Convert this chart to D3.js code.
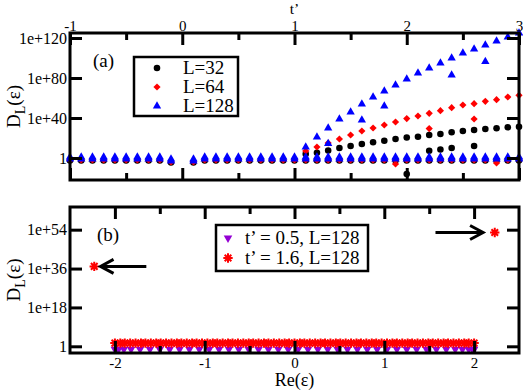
<!DOCTYPE html>
<html>
<head>
<meta charset="utf-8">
<script src="https://cdn.jsdelivr.net/npm/d3@7"></script>
<style>
  body { margin: 0; background: #fff; }
  svg { display: block; }
</style>
</head>
<body>
<script>
// ---------- panel (a) data: D_L(eps) against t' ----------

// t' values where all three sizes sit on the D = 1 line.
const tBaseline = [-1, -0.9, -0.8, -0.7, -0.6, -0.5, -0.4, -0.3, -0.2, -0.1,
  0.1, 0.2, 0.3, 0.4, 0.5, 0.6, 0.7, 0.8, 0.9, 1.0,
  1.1, 1.2, 1.3, 1.4, 1.5, 1.6, 1.7, 1.8, 1.9, 2.0,
  2.1, 2.2, 2.3, 2.4, 2.5, 2.6, 2.7, 2.8, 2.9, 3.0];
const dBaseline = [1, 1, 1, 1, 1, 1, 1, 1, 1, 1e-2,
  1e-2, 1, 1, 1, 1, 1, 1, 1, 1, 1,
  1, 1, 1, 1, 1, 1, 1, 1, 1, 1,
  1, 1, 1, 1, 1, 1, 1, 1, 1, 1];

// t' values of the growing branch.
const tUpper = [1.1, 1.2, 1.3, 1.4, 1.5, 1.6, 1.7, 1.8, 1.9, 2.0,
  2.1, 2.2, 2.3, 2.4, 2.5, 2.6, 2.7, 2.8, 2.9, 3.0];
const dUpper32 = [1e4, 2e5, 3e7, 1e10, 1e12, 1e14, 5e15, 2e17, 1e19, 3e20,
  2e21, 1e23, 1e24, 5e25, 1e27, 1e28, 1e29, 5e29, 5e30, 2e31];
const dUpper64 = [1e7, 1e11, 1e15, 1e19, 1e23, 1e27, 1e30, 1e33, 1e36, 3e39,
  1e42, 5e44, 2e47, 2e50, 1e53, 2e54, 5e56, 2e58, 1e61, 5e62];
const dUpper128 = [1e11, 1e21, 1e30, 1e39, 1e46, 1e54, 1e61, 1e67, 1e73, 1e79,
  1e85, 1e90, 1e95, 1e100, 1e105, 1e109, 1e113, 1e117, 1e121, 1e125];

// Scattered extra points [t', D].
const extra32 = [[2.2, 2e7], [2.3, 3e8], [2.4, 1e10], [2.6, 1e12], [2.0, 1e-16]];
const extra64 = [[2.2, 3e29], [2.6, 1e39], [1.9, 1e-6], [2.8, 1e-5]];
const extra128 = [[1.3, 3e14], [1.6, 1e38], [1.8, 1e52], [2.4, 1e83], [2.7, 3e96]];

const topXTicks = [-1, 0, 1, 2, 3];
const topYTicks = [1, 1e40, 1e80, 1e120];
const legendA = ["L=32", "L=64", "L=128"];

// ---------- panel (b) data: D_L(eps) against Re(eps) ----------

// Re(eps) for t' = 0.5, L = 128.
const reHalf = [-2.00, -1.96, -1.90, -1.82, -1.72, -1.61, -1.50, -1.39, -1.28, -1.17,
  -1.06, -0.95, -0.84, -0.73, -0.62, -0.51, -0.40, -0.29, -0.18, -0.07,
  0.04, 0.15, 0.26, 0.37, 0.48, 0.59, 0.70, 0.81, 0.92, 1.03,
  1.14, 1.25, 1.36, 1.47, 1.58, 1.69, 1.79, 1.87, 1.94, 1.98, 2.00];
const dHalf = 4e-2;

// Re(eps) for t' = 1.6, L = 128 (bulk band).
const reSixteen = [-2.00, -1.94, -1.89, -1.83, -1.77, -1.71, -1.66, -1.60, -1.54, -1.49,
  -1.43, -1.37, -1.31, -1.26, -1.20, -1.14, -1.09, -1.03, -0.97, -0.91,
  -0.86, -0.80, -0.74, -0.69, -0.63, -0.57, -0.51, -0.46, -0.40, -0.34,
  -0.29, -0.23, -0.17, -0.11, -0.06, 0.00, 0.06, 0.11, 0.17, 0.23,
  0.29, 0.34, 0.40, 0.46, 0.51, 0.57, 0.63, 0.69, 0.74, 0.80,
  0.86, 0.91, 0.97, 1.03, 1.09, 1.14, 1.20, 1.26, 1.31, 1.37,
  1.43, 1.49, 1.54, 1.60, 1.66, 1.71, 1.77, 1.83, 1.89, 1.94, 2.00];
const dSixteen = 3e1;

// Two isolated edge states for t' = 1.6 [Re(eps), D].
const edgeStates = [[-2.23, 1e37], [2.23, 5e52]];

const botXTicks = [-2, -1, 0, 1, 2];
const botYTicks = [1, 1e18, 1e36, 1e54];
const legendB = ["t\u2019 = 0.5, L=128", "t\u2019 = 1.6, L=128"];

// ---------- layout ----------
const W = 523, H = 391;
const font = "Liberation Serif, Times New Roman, serif";
const boxA = { left: 70, right: 519, top: 33, bottom: 180 };
const boxB = { left: 70, right: 519, top: 207, bottom: 353 };

const svg = d3.select("body").append("svg")
  .attr("width", W).attr("height", H)
  .attr("font-family", font);

// Custom symbols.
const diamond = {
  draw(ctx, size) {
    const r = Math.sqrt(size / 2);
    ctx.moveTo(0, -r); ctx.lineTo(r, 0); ctx.lineTo(0, r); ctx.lineTo(-r, 0); ctx.closePath();
  }
};
const star = {
  draw(ctx, size) {
    const r = Math.sqrt(size);
    for (let i = 0; i < 4; i++) {
      const a = i * Math.PI / 4;
      ctx.moveTo(r * Math.cos(a), r * Math.sin(a));
      ctx.lineTo(-r * Math.cos(a), -r * Math.sin(a));
    }
  }
};

const styles = {
  black: { type: d3.symbolCircle, size: 34, fill: "#000", stroke: "none", rot: 0, sw: 0 },
  red: { type: diamond, size: 26, fill: "#ff0000", stroke: "none", rot: 0, sw: 0 },
  blue: { type: d3.symbolTriangle, size: 30, fill: "#0000ff", stroke: "none", rot: 0, sw: 0 },
  purple: { type: d3.symbolTriangle, size: 32, fill: "#9400d3", stroke: "none", rot: 180, sw: 0 },
  star: { type: star, size: 22, fill: "none", stroke: "#ff0000", rot: 0, sw: 2 }
};

const drawPoints = function (g, pts, x, y, st) {
  g.selectAll(null).data(pts).join("path")
    .attr("d", d3.symbol(st.type, st.size))
    .attr("transform", d => `translate(${x(d[0])},${y(d[1])}) rotate(${st.rot})`)
    .attr("fill", st.fill)
    .attr("stroke", st.stroke)
    .attr("stroke-width", st.sw);
};

const styleAxis = function (g) {
  g.select(".domain").remove();
  g.attr("font-family", font).attr("font-size", 15);
  g.selectAll("line").attr("stroke-width", 3);
  g.selectAll("text").attr("fill", "#000");
};

const expFormat = d => d === 1 ? "1" : "1e+" + Math.round(Math.log10(d));

// Frame plus ticks on all four sides.
const drawFrame = function (box, x, y, xMajor, xMinor, yTicks, topLabels, bottomLabels) {
  svg.append("g").attr("transform", `translate(0,${box.top})`)
    .call(d3.axisTop(x).tickValues(xMajor).tickSize(-12).tickPadding(2)
      .tickFormat(topLabels ? (d => String(d)) : ""))
    .call(styleAxis);
  svg.append("g").attr("transform", `translate(0,${box.top})`)
    .call(d3.axisTop(x).tickValues(xMinor).tickSize(-7).tickFormat(""))
    .call(styleAxis);
  svg.append("g").attr("transform", `translate(0,${box.bottom})`)
    .call(d3.axisBottom(x).tickValues(xMajor).tickSize(-12).tickPadding(4)
      .tickFormat(bottomLabels ? (d => String(d)) : ""))
    .call(styleAxis);
  svg.append("g").attr("transform", `translate(0,${box.bottom})`)
    .call(d3.axisBottom(x).tickValues(xMinor).tickSize(-7).tickFormat(""))
    .call(styleAxis);
  svg.append("g").attr("transform", `translate(${box.left},0)`)
    .call(d3.axisLeft(y).tickValues(yTicks).tickSize(-12).tickPadding(3).tickFormat(expFormat))
    .call(styleAxis)
    .attr("font-size", 16);
  svg.append("g").attr("transform", `translate(${box.right},0)`)
    .call(d3.axisRight(y).tickValues(yTicks).tickSize(-12).tickFormat(""))
    .call(styleAxis);
  svg.append("rect")
    .attr("x", box.left).attr("y", box.top)
    .attr("width", box.right - box.left).attr("height", box.bottom - box.top)
    .attr("fill", "none").attr("stroke", "#000").attr("stroke-width", 3);
};

const yLabel = function (cy) {
  const t = svg.append("text")
    .attr("transform", `translate(20,${cy}) rotate(-90)`)
    .attr("text-anchor", "middle").attr("font-size", 19);
  t.append("tspan").text("D");
  t.append("tspan").attr("font-size", 14).attr("dy", 5).text("L");
  t.append("tspan").attr("dy", -5).text("(\u03b5)");
};

const legend = function (x0, y0, w, h, rows, symX, textX, labels, sts) {
  svg.append("rect").attr("x", x0).attr("y", y0).attr("width", w).attr("height", h)
    .attr("fill", "#fff").attr("stroke", "#000").attr("stroke-width", 2.5);
  labels.forEach((lab, i) => {
    const st = sts[i];
    svg.append("path")
      .attr("d", d3.symbol(st.type, st.size))
      .attr("transform", `translate(${symX},${rows[i]}) rotate(${st.rot})`)
      .attr("fill", st.fill).attr("stroke", st.stroke).attr("stroke-width", st.sw);
    svg.append("text").attr("x", textX).attr("y", rows[i] + 6)
      .attr("font-size", 19).text(lab);
  });
};

// ---------- panel (a) ----------
const xA = d3.scaleLinear().domain([-1, 3]).range([boxA.left, boxA.right]);
const yA = d3.scaleLog().domain([1e-22, 1e125]).range([boxA.bottom, boxA.top]);

const gA = svg.append("g");
const base = tBaseline.map((t, i) => [t, dBaseline[i]]);
const pairs = (ts, ds) => ts.map((t, i) => [t, ds[i]]);

drawPoints(gA, base.map(d => [d[0], d[1] * 3e-3]), xA, yA, styles.black);
drawPoints(gA, pairs(tUpper, dUpper32).concat(extra32), xA, yA, styles.black);
drawPoints(gA, base.map(d => [d[0], d[1] * 1e-2]), xA, yA, styles.red);
drawPoints(gA, pairs(tUpper, dUpper64).concat(extra64), xA, yA, styles.red);
drawPoints(gA, base.map(d => [d[0], d[1] * 0.1]), xA, yA, styles.blue);
drawPoints(gA, base.map(d => [d[0], d[1] * 10]), xA, yA, styles.blue);
drawPoints(gA, pairs(tUpper, dUpper128).concat(extra128), xA, yA, styles.blue);

drawFrame(boxA, xA, yA, topXTicks, [-0.5, 0.5, 1.5, 2.5], topYTicks, true, false);

svg.append("text").attr("x", (boxA.left + boxA.right) / 2).attr("y", 14)
  .attr("text-anchor", "middle").attr("font-size", 15.5).text("t\u2019");
svg.append("text").attr("x", 93).attr("y", 67).attr("font-size", 19).text("(a)");
yLabel((boxA.top + boxA.bottom) / 2);
legend(134, 57, 104, 59, [68, 87, 106], 157, 183, legendA,
  [styles.black, styles.red, styles.blue]);

// ---------- panel (b) ----------
const xB = d3.scaleLinear().domain([-2.5, 2.5]).range([boxB.left, boxB.right]);
const yB = d3.scaleLog().domain([Math.pow(10, -3.1), Math.pow(10, 64.5)]).range([boxB.bottom, boxB.top]);

const gB = svg.append("g");
drawPoints(gB, reHalf.map(r => [r, dHalf]), xB, yB, styles.purple);
drawPoints(gB, reSixteen.map(r => [r, dSixteen]), xB, yB, styles.star);
drawPoints(gB, edgeStates, xB, yB, styles.star);

// Arrows pointing at the edge states.
const arrow = function (fromRe, toRe, d) {
  const x1 = xB(fromRe), x2 = xB(toRe), yy = yB(d), s = Math.sign(x1 - x2);
  svg.append("path")
    .attr("d", `M${x1},${yy}L${x2},${yy}M${x2 + s * 13},${yy - 7}L${x2},${yy}L${x2 + s * 13},${yy + 7}`)
    .attr("fill", "none").attr("stroke", "#000").attr("stroke-width", 3);
};
arrow(-1.65, -2.16, edgeStates[0][1]);
arrow(1.57, 2.1, edgeStates[1][1]);

drawFrame(boxB, xB, yB, botXTicks, [-1.5, -0.5, 0.5, 1.5], botYTicks, false, true);

svg.append("text").attr("x", (boxB.left + boxB.right) / 2).attr("y", 386)
  .attr("text-anchor", "middle").attr("font-size", 18).text("Re(\u03b5)");
svg.append("text").attr("x", 97).attr("y", 241).attr("font-size", 19).text("(b)");
yLabel((boxB.top + boxB.bottom) / 2);
legend(216, 225, 152, 46, [238, 258], 228, 245, legendB, [styles.purple, styles.star]);
</script>
</body>
</html>
